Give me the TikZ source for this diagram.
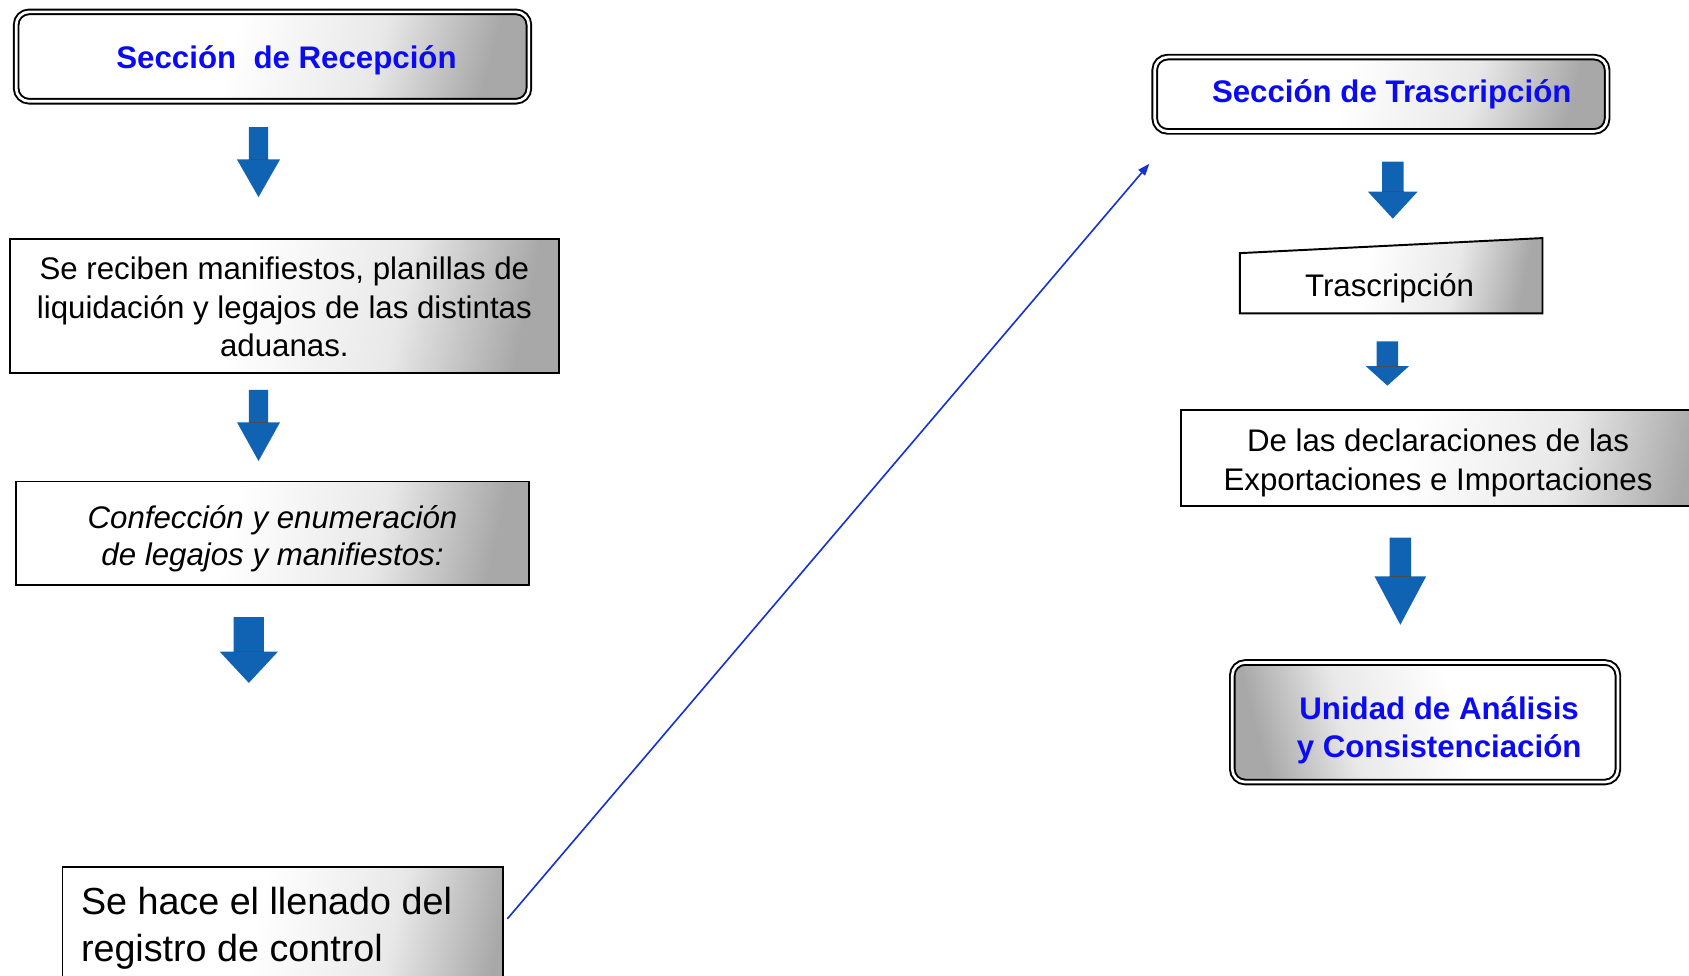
\documentclass[tikz,border=0pt]{standalone}
\usepackage{fontspec}
\setmainfont{Liberation Sans}
\usetikzlibrary{arrows.meta}
\definecolor{titleblue}{RGB}{10,10,245}
\definecolor{arrowblue}{RGB}{16,98,178}
\definecolor{connblue}{RGB}{20,50,210}
\pgfdeclarehorizontalshading{boxshade}{100bp}{color(0bp)=(white); color(25bp)=(white); color(45bp)=(white); color(62bp)=(black!9); color(75bp)=(black!34); color(100bp)=(black!34)}
\newcommand\blockarr[6]{%
  \fill[arrowblue] (#1-#5,#2) -- (#1+#5,#2) -- (#1+#5,#3) -- (#1+#6,#3) -- (#1,#4) -- (#1-#6,#3) -- (#1-#5,#3) -- cycle;
  \draw[black!70, line width=0.8pt] (#1-#5,#3) -- (#1+#5,#3);}
\begin{document}
\begin{tikzpicture}[x=1pt,y=-1pt,
  titlebox/.style={draw=black, double=white, double distance=2.5pt, line width=1.8pt,
    rounded corners=12pt, shading=boxshade, shading angle=-15, inner sep=0pt},
  titletext/.style={font=\fontsize{29}{35}\selectfont\bfseries, text=titleblue, align=center, inner sep=0pt},
  plainbox/.style={draw=black, line width=1.8pt, shading=boxshade, shading angle=-12, inner sep=0pt},
  plaintext/.style={font=\fontsize{29}{36}\selectfont, align=center, inner sep=0pt}]
\useasboundingbox (0,0) rectangle (1568,906);
% left column
\node[titlebox, minimum width=476pt, minimum height=83pt] (recep) at (253,52.5) {};
\node[titletext] (receptxt) at (266,55.5) {Sección\ \ de Recepción};
\node[plainbox, minimum width=510pt, minimum height=124pt] (recib) at (264,284) {};
\node[plaintext] (recibtxt) at (264,285)
  {Se reciben manifiestos, planillas de\\liquidación y legajos de las distintas\\aduanas.};
\node[plainbox, minimum width=476pt, minimum height=96pt] (confec) at (253,495) {};
\node[plaintext, font=\fontsize{29}{35}\selectfont\itshape] (confectxt) at (253,500)
  {Confección y enumeración\\de legajos y manifiestos:};
\node[plainbox, minimum width=409pt, minimum height=220pt] (llenado) at (262.5,915) {};
\node[font=\fontsize{35}{44}\selectfont, align=left, anchor=north west, inner sep=0pt] (llenadotxt) at (75,823)
  {Se hace el llenado del\\registro de control};
% right column
\node[titlebox, minimum width=420pt, minimum height=69pt] (strans) at (1282,87.5) {};
\node[titletext] (stranstxt) at (1292,87.5) {Sección de Trascripción};
\filldraw[draw=black, line width=1.8pt, shading=boxshade, shading angle=-12]
  (1151,235) -- (1432,221) -- (1432,291) -- (1151,291) -- cycle;
\node[plaintext] (trasc) at (1290,268) {Trascripción};
\node[plainbox, minimum width=504pt, minimum height=89pt] (declbox) at (1348,425.5) {};
\node[plaintext] (decl) at (1335,430) {De las declaraciones de las\\Exportaciones e Importaciones};
\node[titlebox, shading angle=195, minimum width=358pt, minimum height=111pt] (unidad) at (1323,670.5) {};
\node[titletext] (unidadtxt) at (1336,678) {Unidad de Análisis\\y Consistenciación};
% block arrows
\blockarr{240}{118}{148}{183}{9}{20}
\blockarr{240}{362}{392}{428}{9}{20}
\blockarr{231}{573}{605}{634}{14}{27}
\blockarr{1293}{150}{178}{203}{10}{23}
\blockarr{1288}{317}{340}{358}{10}{20}
\blockarr{1300}{499}{535}{580}{10}{24}
% connector
\coordinate (lstart) at (471,853);
\coordinate (lend) at (1067,152);
\draw[connblue, line width=1.5pt, -{Triangle[length=11pt,width=8pt]}] (lstart) -- (lend);
\end{tikzpicture}
\end{document}
